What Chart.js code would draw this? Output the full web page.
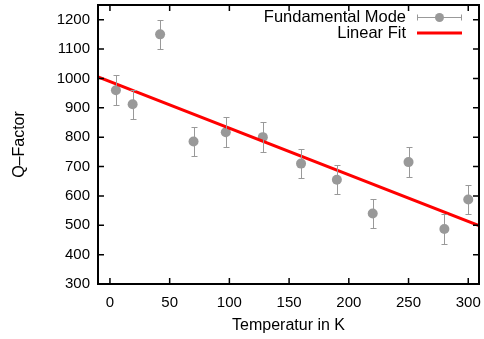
<!DOCTYPE html>
<html>
<head>
<meta charset="utf-8">
<script src="https://cdn.jsdelivr.net/npm/chart.js@4"></script>
<style>
  html, body { margin: 0; padding: 0; background: #fff; }
  #wrap { width: 484px; height: 339px; }
</style>
</head>
<body>
<div id="wrap"><canvas id="chart" width="484" height="339"></canvas></div>
<script>
  // data
  const temps   = [5, 19, 42, 70, 97, 128, 160, 190, 220, 250, 280, 300];
  const qFactor = [960, 912, 1150, 785, 817, 800, 710, 655, 540, 715, 487, 588];
  const qErr    = [50, 50, 50, 50, 50, 50, 50, 50, 50, 50, 50, 50];
  const fitX    = [-10, 310];
  const fitY    = [1005, 497];
  const xTicks  = [0, 50, 100, 150, 200, 250, 300];
  const yTicks  = [300, 400, 500, 600, 700, 800, 900, 1000, 1100, 1200];

  const FONT = '"Liberation Sans", Arial, sans-serif';
  const gray = '#999999';

  const framePlugin = {
    id: 'frame',
    afterDatasetsDraw(chart) {
      const ctx = chart.ctx;
      const xs = chart.scales.x, ys = chart.scales.y;

      // error bars
      ctx.save();
      ctx.strokeStyle = gray;
      ctx.lineWidth = 1;
      temps.forEach((t, i) => {
        const px = Math.round(xs.getPixelForValue(t)) + 0.5;
        const top = Math.round(ys.getPixelForValue(qFactor[i] + qErr[i])) + 0.5;
        const bot = Math.round(ys.getPixelForValue(qFactor[i] - qErr[i])) + 0.5;
        ctx.beginPath();
        ctx.moveTo(px, top); ctx.lineTo(px, bot);
        ctx.moveTo(px - 3, top); ctx.lineTo(px + 3, top);
        ctx.moveTo(px - 3, bot); ctx.lineTo(px + 3, bot);
        ctx.stroke();
      });
      ctx.restore();
    },
    afterDraw(chart) {
      const ctx = chart.ctx;
      const xs = chart.scales.x, ys = chart.scales.y;
      const a = chart.chartArea;
      ctx.save();
      ctx.strokeStyle = '#000';
      ctx.lineWidth = 2;
      ctx.strokeRect(a.left, a.top, a.right - a.left, a.bottom - a.top);

      // inward ticks on all sides
      ctx.lineWidth = 1.5;
      ctx.beginPath();
      xTicks.forEach(v => {
        const px = xs.getPixelForValue(v);
        ctx.moveTo(px, a.bottom); ctx.lineTo(px, a.bottom - 6);
        ctx.moveTo(px, a.top); ctx.lineTo(px, a.top + 6);
      });
      yTicks.forEach(v => {
        const py = ys.getPixelForValue(v);
        ctx.moveTo(a.left, py); ctx.lineTo(a.left + 6, py);
        ctx.moveTo(a.right, py); ctx.lineTo(a.right - 6, py);
      });
      ctx.stroke();

      // tick labels
      ctx.font = '15px ' + FONT;
      ctx.fillStyle = '#000';
      ctx.textBaseline = 'middle';
      ctx.textAlign = 'right';
      yTicks.forEach(v => ctx.fillText(String(v), a.left - 8, ys.getPixelForValue(v)));
      ctx.textAlign = 'center';
      xTicks.forEach(v => ctx.fillText(String(v), xs.getPixelForValue(v), a.bottom + 19));

      // legend
      ctx.font = '16.5px ' + FONT;
      ctx.textAlign = 'right';
      ctx.fillText('Fundamental Mode', 406, 17);
      ctx.fillText('Linear Fit', 406, 33);

      ctx.strokeStyle = gray;
      ctx.lineWidth = 1;
      ctx.beginPath();
      ctx.moveTo(417, 17.5); ctx.lineTo(462, 17.5);
      ctx.moveTo(417.5, 14.5); ctx.lineTo(417.5, 20.5);
      ctx.moveTo(461.5, 14.5); ctx.lineTo(461.5, 20.5);
      ctx.stroke();
      ctx.fillStyle = gray;
      ctx.beginPath();
      ctx.arc(439.5, 17.5, 4.5, 0, Math.PI * 2);
      ctx.fill();

      ctx.strokeStyle = '#ff0000';
      ctx.lineWidth = 3;
      ctx.beginPath();
      ctx.moveTo(417, 33); ctx.lineTo(462, 33);
      ctx.stroke();
      ctx.restore();
    }
  };

  new Chart(document.getElementById('chart'), {
    type: 'scatter',
    data: {
      datasets: [
        {
          label: 'Fundamental Mode',
          data: temps.map((t, i) => ({ x: t, y: qFactor[i] })),
          backgroundColor: gray,
          borderColor: gray,
          pointRadius: 5,
          pointBorderWidth: 0,
          order: 2
        },
        {
          label: 'Linear Fit',
          type: 'line',
          data: fitX.map((x, i) => ({ x: x, y: fitY[i] })),
          borderColor: '#ff0000',
          borderWidth: 3,
          pointRadius: 0,
          fill: false,
          order: 1
        }
      ]
    },
    options: {
      responsive: false,
      animation: false,
      devicePixelRatio: 1,
      layout: { padding: { top: 4, right: 2, left: 0, bottom: 0 } },
      plugins: { legend: { display: false }, tooltip: { enabled: false } },
      scales: {
        x: {
          type: 'linear',
          min: -10, max: 309,
          grid: { display: false },
          border: { display: false },
          afterFit: s => { s.height = 55; },
          ticks: { display: false },
          title: { display: true, text: 'Temperatur in K', color: '#000', font: { family: FONT, size: 16 }, padding: { top: 4, bottom: 4 } }
        },
        y: {
          type: 'linear',
          min: 300, max: 1250,
          grid: { display: false },
          border: { display: false },
          afterFit: s => { s.width = 98; },
          ticks: { display: false },
          title: { display: true, text: 'Q\u2013Factor', color: '#000', font: { family: FONT, size: 16 }, padding: { top: 10, bottom: 4 } }
        }
      }
    },
    plugins: [framePlugin]
  });
</script>
</body>
</html>
